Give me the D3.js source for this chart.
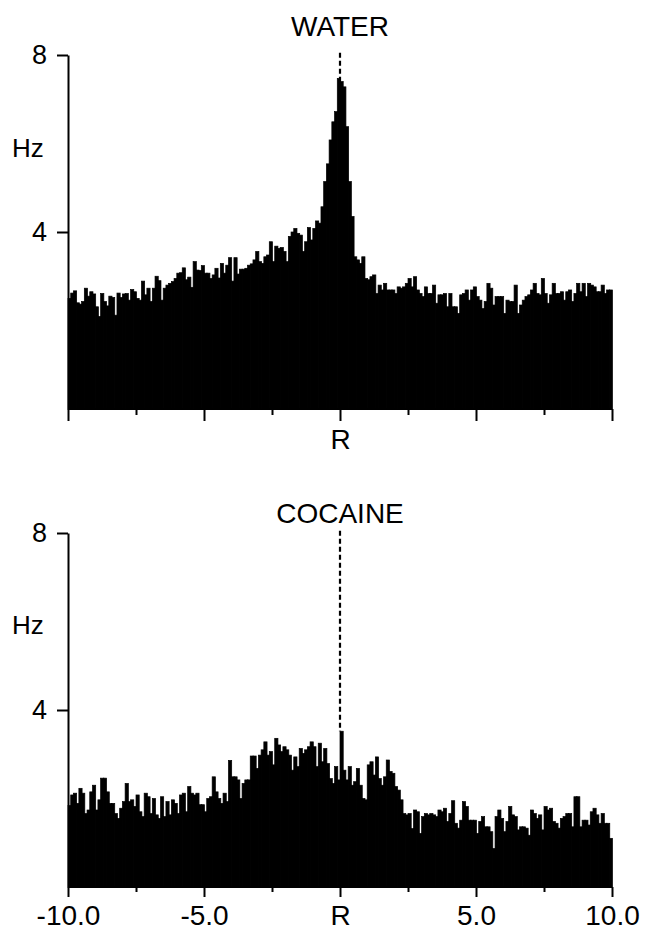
<!DOCTYPE html>
<html>
<head>
<meta charset="utf-8">
<script src="https://cdn.jsdelivr.net/npm/d3@7"></script>
<style>
  html, body { margin: 0; padding: 0; background: #fff; }
  svg { display: block; }
  text { font-family: "Liberation Sans", Arial, Helvetica, sans-serif; fill: #000; }
</style>
</head>
<body>
<svg id="chart" width="646" height="937"></svg>
<script>
// Peri-event firing rate (Hz), 0.1 s bins from -10 s to +10 s around the response (R)
const binWidth = 0.1;
const timeStart = -10;

const waterRate = [
  2.50, 2.62, 2.67, 2.40, 2.37, 2.43, 2.73, 2.55, 2.65, 2.60,
  2.31, 2.09, 2.61, 2.43, 2.33, 2.55, 2.52, 2.12, 2.62, 2.52,
  2.60, 2.61, 2.46, 2.70, 2.65, 2.50, 2.46, 2.89, 2.58, 2.73,
  2.43, 2.73, 3.00, 2.90, 2.46, 2.73, 2.80, 2.84, 2.88, 2.95,
  3.07, 3.08, 3.19, 2.92, 2.98, 2.75, 3.33, 3.14, 3.13, 3.24,
  3.07, 3.07, 2.95, 3.03, 3.18, 2.96, 3.29, 3.07, 3.25, 3.42,
  2.89, 3.42, 3.05, 3.16, 3.16, 3.18, 3.25, 3.28, 3.37, 3.56,
  3.33, 3.29, 3.44, 3.48, 3.78, 3.33, 3.68, 3.63, 3.65, 3.56,
  3.33, 3.90, 4.00, 4.08, 3.97, 3.93, 3.56, 3.78, 4.10, 3.82,
  4.08, 4.25, 4.20, 4.57, 5.14, 5.54, 6.08, 6.49, 6.72, 7.47,
  7.40, 7.28, 6.38, 5.14, 4.35, 3.44, 3.37, 3.29, 3.44, 2.95,
  2.92, 2.99, 3.03, 2.61, 2.80, 2.69, 2.84, 2.69, 2.69, 2.69,
  2.61, 2.76, 2.73, 2.76, 2.84, 2.95, 2.76, 2.99, 2.69, 2.61,
  2.54, 2.76, 2.61, 2.61, 2.80, 2.39, 2.58, 2.58, 2.61, 2.31,
  2.61, 2.31, 2.31, 2.16, 2.58, 2.61, 2.69, 2.46, 2.69, 2.76,
  2.54, 2.46, 2.27, 2.43, 2.84, 2.73, 2.35, 2.54, 2.54, 2.54,
  2.16, 2.46, 2.43, 2.43, 2.80, 2.16, 2.35, 2.46, 2.54, 2.58,
  2.69, 2.84, 2.61, 2.58, 2.95, 2.61, 2.39, 2.58, 2.84, 2.61,
  2.61, 2.65, 2.46, 2.65, 2.69, 2.43, 2.61, 2.84, 2.65, 2.84,
  2.54, 2.84, 2.80, 2.76, 2.65, 2.65, 2.80, 2.61, 2.69, 2.69
];

const cocaineRate = [
  1.84, 2.08, 2.12, 1.89, 2.23, 2.12, 1.66, 1.74, 2.15, 2.30,
  1.74, 1.97, 2.46, 2.46, 2.15, 1.89, 1.89, 1.66, 1.55, 1.78,
  1.93, 2.34, 1.93, 1.97, 1.82, 2.08, 1.70, 1.59, 2.12, 2.04,
  1.66, 2.00, 1.63, 1.55, 2.04, 1.59, 1.93, 1.63, 1.97, 1.89,
  1.66, 2.08, 2.12, 1.70, 2.27, 2.12, 2.08, 2.12, 1.86, 1.86,
  1.70, 2.00, 2.04, 2.49, 2.15, 2.00, 1.89, 2.12, 1.93, 2.86,
  2.49, 2.49, 2.42, 2.00, 2.34, 2.42, 2.42, 2.96, 2.96, 2.68,
  2.98, 3.10, 3.28, 2.98, 3.06, 2.76, 3.36, 3.21, 3.06, 3.17,
  3.10, 2.98, 2.64, 2.94, 2.72, 3.13, 3.02, 3.10, 3.17, 3.28,
  3.17, 2.72, 3.25, 2.83, 3.13, 2.79, 2.45, 2.34, 2.72, 2.42,
  3.52, 2.64, 2.42, 2.72, 2.30, 2.38, 2.68, 2.30, 2.00, 1.97,
  2.76, 2.83, 2.53, 2.94, 2.45, 2.30, 2.49, 2.87, 2.61, 2.57,
  2.27, 2.19, 1.97, 1.66, 1.63, 1.66, 1.32, 1.74, 1.70, 1.21,
  1.59, 1.66, 1.63, 1.66, 1.63, 1.59, 1.74, 1.70, 1.78, 1.48,
  1.66, 1.95, 1.44, 1.33, 1.51, 1.93, 1.82, 1.51, 1.51, 1.51,
  1.21, 1.48, 1.59, 1.36, 1.36, 1.25, 0.87, 1.59, 1.74, 1.55,
  1.25, 1.48, 1.82, 1.63, 1.59, 1.29, 1.36, 1.36, 1.33, 1.17,
  1.74, 1.66, 1.55, 1.63, 1.29, 1.82, 1.74, 1.78, 1.48, 1.44,
  1.33, 1.55, 1.59, 1.66, 1.66, 1.36, 2.04, 2.04, 1.36, 1.51,
  1.51, 1.40, 1.70, 1.78, 1.63, 1.44, 1.66, 1.44, 1.44, 1.10
];

const panelTitles = ["WATER", "COCAINE"];
const yTicks = [4, 8];
const yTickLabels = ["4", "8"];
const xMajorTicks = [-10, -5, 0, 5, 10];
const xMinorTicks = [-7.5, -2.5, 2.5, 7.5];
const xTickLabels = ["-10.0", "-5.0", "R", "5.0", "10.0"];
const yLabel = "Hz";

const svg = d3.select("#chart");

const x = d3.scaleLinear().domain([-10, 10]).range([68, 612]);

const panels = [
  { title: panelTitles[0], data: waterRate, top: 55, bottom: 409, titleY: 36, hzY: 157,
    majorLen: 12, minorLen: 6, showAllLabels: false },
  { title: panelTitles[1], data: cocaineRate, top: 533, bottom: 887, titleY: 523, hzY: 634,
    majorLen: 10, minorLen: 5, showAllLabels: true }
];

panels.forEach(p => {
  const y = d3.scaleLinear().domain([0, 8]).range([p.bottom, p.top]);
  const g = svg.append("g");

  // histogram bars
  const bins = p.data.map((v, i) => ({ t0: timeStart + i * binWidth, v }));
  g.append("g")
    .selectAll("rect")
    .data(bins)
    .join("rect")
    .attr("x", d => x(d.t0))
    .attr("y", d => y(d.v))
    .attr("width", d => x(d.t0 + binWidth) - x(d.t0) + 0.5)
    .attr("height", d => y(0) - y(d.v))
    .attr("fill", "#000")
    .attr("stroke", "#000")
    .attr("stroke-width", 0.7);

  // dashed marker at the response time, from above the axis top down to the bar at R
  const rIndex = Math.round((0 - timeStart) / binWidth);
  g.append("line")
    .attr("x1", x(0)).attr("x2", x(0))
    .attr("y1", y(8.05)).attr("y2", y(p.data[rIndex]))
    .attr("stroke", "#000")
    .attr("stroke-width", 2.2)
    .attr("stroke-dasharray", "5,3");

  // y axis
  const yAxis = g.append("g")
    .attr("transform", `translate(${x(-10)},0)`)
    .call(d3.axisLeft(y).tickValues(yTicks)
      .tickFormat((d, i) => yTickLabels[i])
      .tickSize(11).tickSizeOuter(0).tickPadding(10));
  yAxis.select(".domain").attr("stroke-width", 2);
  yAxis.selectAll(".tick line").attr("stroke-width", 2);
  yAxis.selectAll(".tick text")
    .style("font-size", "27px")
    .style("font-family", "'Liberation Sans', Arial, sans-serif")
    .attr("fill", "#000");

  // x axis: major ticks with labels
  const xAxis = g.append("g")
    .attr("transform", `translate(0,${p.bottom})`)
    .call(d3.axisBottom(x).tickValues(xMajorTicks)
      .tickFormat((d, i) => (p.showAllLabels || d === 0) ? xTickLabels[i] : "")
      .tickSize(p.majorLen).tickSizeOuter(0).tickPadding(p.showAllLabels ? 8 : 8));
  xAxis.select(".domain").attr("stroke-width", 1);
  xAxis.selectAll(".tick line").attr("stroke-width", 2);
  xAxis.selectAll(".tick text")
    .style("font-size", "28px")
    .style("font-family", "'Liberation Sans', Arial, sans-serif")
    .attr("fill", "#000");

  // x axis: minor ticks
  const xMinor = g.append("g")
    .attr("transform", `translate(0,${p.bottom})`)
    .call(d3.axisBottom(x).tickValues(xMinorTicks).tickFormat("")
      .tickSize(p.minorLen).tickSizeOuter(0));
  xMinor.select(".domain").remove();
  xMinor.selectAll(".tick line").attr("stroke-width", 2);

  // panel title
  g.append("text")
    .attr("x", x(0))
    .attr("y", p.titleY)
    .attr("text-anchor", "middle")
    .style("font-size", "28px")
    .text(p.title);

  // unit label
  g.append("text")
    .attr("x", 12)
    .attr("y", p.hzY)
    .style("font-size", "26px")
    .text(yLabel);
});
</script>
</body>
</html>
